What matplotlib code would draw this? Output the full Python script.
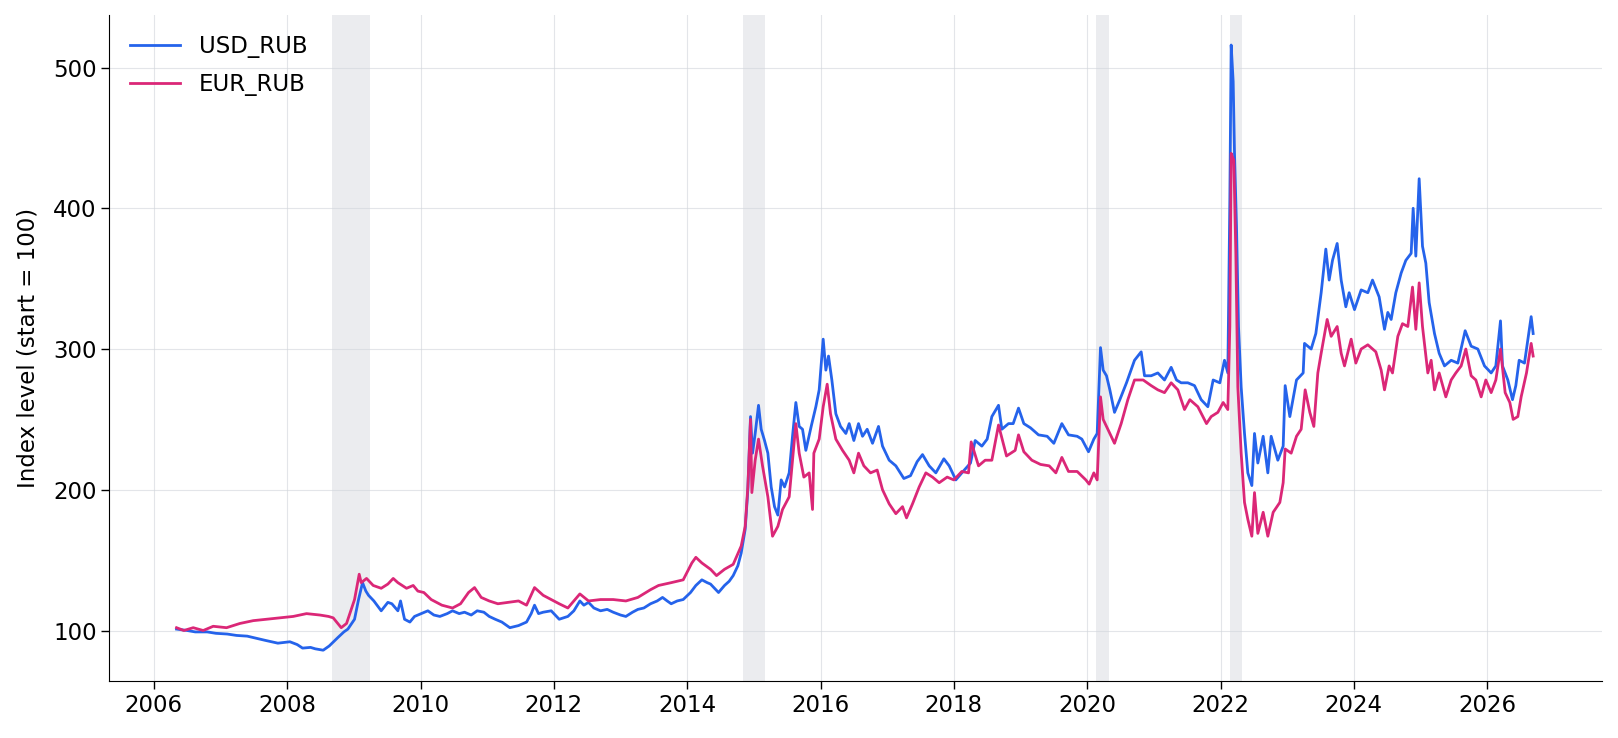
import matplotlib as mpl
mpl.use('Agg')
import matplotlib.pyplot as plt

# decimal-year dates and index levels
usd_dates = [2006.34, 2006.50, 2006.62, 2006.80, 2006.93, 2007.10, 2007.24, 2007.40, 2007.49, 2007.67,
             2007.86, 2008.04, 2008.15, 2008.23, 2008.35, 2008.42, 2008.54, 2008.63, 2008.76, 2008.85,
             2008.91, 2009.01, 2009.07, 2009.13, 2009.18, 2009.22, 2009.30, 2009.41, 2009.51, 2009.57,
             2009.66, 2009.70, 2009.76, 2009.84, 2009.91, 2010.01, 2010.11, 2010.20, 2010.29, 2010.40,
             2010.48, 2010.58, 2010.66, 2010.76, 2010.85, 2010.95, 2011.03, 2011.12, 2011.22, 2011.34,
             2011.47, 2011.59, 2011.66, 2011.71, 2011.77, 2011.84, 2011.96, 2012.08, 2012.21, 2012.30,
             2012.39, 2012.45, 2012.52, 2012.60, 2012.70, 2012.80, 2012.89, 2013.00, 2013.08, 2013.18,
             2013.26, 2013.35, 2013.45, 2013.55, 2013.63, 2013.70, 2013.76, 2013.85, 2013.94, 2014.05,
             2014.13, 2014.22, 2014.30, 2014.35, 2014.47, 2014.56, 2014.63, 2014.69, 2014.76, 2014.81,
             2014.87, 2014.91, 2014.95, 2014.98, 2015.02, 2015.07, 2015.11, 2015.16, 2015.21, 2015.26,
             2015.31, 2015.36, 2015.41, 2015.46, 2015.53, 2015.58, 2015.63, 2015.68, 2015.73, 2015.78,
             2015.86, 2015.93, 2015.98, 2016.04, 2016.08, 2016.12, 2016.17, 2016.23, 2016.30, 2016.38,
             2016.43, 2016.50, 2016.57, 2016.63, 2016.70, 2016.78, 2016.87, 2016.93, 2017.03, 2017.13,
             2017.25, 2017.35, 2017.45, 2017.53, 2017.63, 2017.73, 2017.85, 2017.93, 2018.03, 2018.12,
             2018.25, 2018.32, 2018.42, 2018.50, 2018.57, 2018.67, 2018.72, 2018.82, 2018.89, 2018.97,
             2019.05, 2019.15, 2019.27, 2019.40, 2019.50, 2019.62, 2019.72, 2019.85, 2019.92, 2020.02,
             2020.10, 2020.15, 2020.20, 2020.24, 2020.29, 2020.34, 2020.41, 2020.49, 2020.59, 2020.71,
             2020.81, 2020.86, 2020.96, 2021.06, 2021.16, 2021.26, 2021.34, 2021.41, 2021.51, 2021.61,
             2021.71, 2021.81, 2021.89, 2021.99, 2022.06, 2022.11, 2022.14, 2022.16, 2022.19, 2022.21,
             2022.24, 2022.27, 2022.31, 2022.36, 2022.41, 2022.47, 2022.51, 2022.56, 2022.64, 2022.71,
             2022.76, 2022.86, 2022.94, 2022.97, 2023.04, 2023.14, 2023.24, 2023.26, 2023.36, 2023.43,
             2023.51, 2023.58, 2023.63, 2023.68, 2023.75, 2023.81, 2023.88, 2023.93, 2024.01, 2024.11,
             2024.21, 2024.28, 2024.38, 2024.46, 2024.51, 2024.56, 2024.63, 2024.71, 2024.78, 2024.86,
             2024.89, 2024.93, 2024.98, 2025.03, 2025.08, 2025.13, 2025.21, 2025.28, 2025.36, 2025.46,
             2025.56, 2025.67, 2025.76, 2025.86, 2025.96, 2026.06, 2026.13, 2026.20, 2026.23, 2026.31,
             2026.38, 2026.43, 2026.48, 2026.56, 2026.66, 2026.69]
usd_vals = [101, 100, 99, 99, 98, 97.5, 96.5, 96, 95, 93,
            91, 92, 90, 87.5, 88, 87, 86, 89, 95, 99,
            101, 108, 122, 134, 128, 125, 121, 114, 120, 119,
            114, 121, 108, 106, 110, 112, 114, 111, 110, 112,
            114, 112, 113, 111, 114, 113, 110, 108, 106, 102,
            103.5, 106, 112, 118, 112, 113, 114, 108, 110, 114,
            121, 118, 120, 116, 114, 115, 113, 111, 110, 113,
            115, 116, 119, 121, 123.5, 121, 119, 121, 122, 127,
            132, 136, 134, 133, 127, 132, 135, 139, 146, 155,
            172, 200, 252, 226, 240, 260, 243, 235, 226, 202,
            188, 182, 207, 202, 212, 238, 262, 245, 243, 228,
            245, 259, 271, 307, 285, 295, 278, 254, 245, 240,
            247, 235, 247, 238, 243, 233, 245, 231, 221, 217,
            208, 210, 220, 225, 217, 212, 222, 217, 207, 212,
            219, 235, 231, 236, 252, 260, 243, 247, 247, 258,
            247, 244, 239, 238, 233, 247, 239, 238, 236, 227,
            236, 240, 301, 285, 281, 271, 255, 264, 276, 292,
            298, 281, 281, 283, 278, 287, 278, 276, 276, 274,
            264, 259, 278, 276, 292, 283, 406, 516, 490, 439,
            387, 316, 273, 240, 212, 203, 240, 219, 238, 212,
            238, 221, 231, 274, 252, 278, 283, 304, 300, 311,
            340, 371, 349, 363, 375, 349, 330, 340, 328, 342,
            340, 349, 337, 314, 326, 321, 340, 354, 363, 368,
            400, 366, 421, 373, 361, 333, 311, 297, 288, 292,
            290, 313, 302, 300, 288, 283, 288, 320, 288, 278,
            264, 274, 292, 290, 323, 311]

eur_dates = [2006.34, 2006.45, 2006.59, 2006.74, 2006.89, 2007.09, 2007.29, 2007.49, 2007.69, 2007.89,
             2008.09, 2008.29, 2008.49, 2008.62, 2008.69, 2008.81, 2008.89, 2008.96, 2009.01, 2009.08,
             2009.11, 2009.19, 2009.29, 2009.41, 2009.51, 2009.59, 2009.66, 2009.79, 2009.89, 2009.96,
             2010.05, 2010.16, 2010.32, 2010.48, 2010.60, 2010.72, 2010.81, 2010.91, 2011.03, 2011.16,
             2011.31, 2011.47, 2011.59, 2011.71, 2011.84, 2011.96, 2012.08, 2012.21, 2012.39, 2012.52,
             2012.70, 2012.89, 2013.08, 2013.26, 2013.45, 2013.57, 2013.76, 2013.94, 2014.07, 2014.13,
             2014.22, 2014.35, 2014.44, 2014.56, 2014.69, 2014.81, 2014.87, 2014.91, 2014.95, 2014.97,
             2015.02, 2015.07, 2015.13, 2015.21, 2015.28, 2015.36, 2015.43, 2015.53, 2015.63, 2015.68,
             2015.75, 2015.83, 2015.88, 2015.90, 2015.98, 2016.04, 2016.10, 2016.15, 2016.23, 2016.33,
             2016.43, 2016.50, 2016.57, 2016.65, 2016.75, 2016.85, 2016.93, 2017.03, 2017.13, 2017.23,
             2017.29, 2017.38, 2017.48, 2017.58, 2017.68, 2017.78, 2017.90, 2018.00, 2018.12, 2018.22,
             2018.26, 2018.37, 2018.47, 2018.57, 2018.67, 2018.79, 2018.92, 2018.97, 2019.05, 2019.17,
             2019.30, 2019.43, 2019.53, 2019.62, 2019.72, 2019.85, 2019.98, 2020.03, 2020.10, 2020.15,
             2020.20, 2020.24, 2020.31, 2020.41, 2020.51, 2020.61, 2020.71, 2020.84, 2020.96, 2021.06,
             2021.16, 2021.26, 2021.36, 2021.46, 2021.54, 2021.66, 2021.79, 2021.86, 2021.96, 2022.04,
             2022.11, 2022.14, 2022.16, 2022.20, 2022.23, 2022.26, 2022.31, 2022.36, 2022.41, 2022.47,
             2022.51, 2022.56, 2022.64, 2022.71, 2022.79, 2022.89, 2022.94, 2022.97, 2023.06, 2023.14,
             2023.21, 2023.27, 2023.34, 2023.40, 2023.46, 2023.51, 2023.60, 2023.66, 2023.75, 2023.81,
             2023.86, 2023.96, 2024.03, 2024.11, 2024.21, 2024.33, 2024.41, 2024.46, 2024.53, 2024.58,
             2024.66, 2024.73, 2024.81, 2024.88, 2024.93, 2024.98, 2025.03, 2025.11, 2025.16, 2025.21,
             2025.28, 2025.38, 2025.46, 2025.53, 2025.61, 2025.68, 2025.76, 2025.83, 2025.91, 2025.98,
             2026.06, 2026.13, 2026.20, 2026.27, 2026.34, 2026.39, 2026.46, 2026.51, 2026.59, 2026.66,
             2026.69]
eur_vals = [102, 100, 102, 100, 103, 102, 105, 107, 108, 109,
            110, 112, 111, 110, 109, 102, 105, 115, 122, 140,
            134, 137, 132, 130, 133, 137, 134, 130, 132, 128,
            127, 122, 118, 116, 119, 127, 130.5, 123.5, 121, 119,
            120, 121, 118, 130.5, 125, 122, 119, 116, 126, 121,
            122, 122, 121, 123.5, 129, 132, 134, 136, 148, 152,
            148, 143.5, 139, 143.5, 147, 160, 174, 202, 250, 198,
            221, 236, 217, 195, 167, 174, 186, 195, 247, 226,
            209, 212, 186, 226, 236, 259, 275, 254, 236, 228,
            221, 212, 226, 217, 212, 214, 200, 190, 183, 188,
            180, 190, 202, 212, 209, 205, 209, 207, 213, 212,
            234, 217, 221, 221, 246, 224, 228, 239, 227, 221,
            218, 217, 212, 223, 213, 213, 207, 204, 212, 207,
            266, 250, 243, 233, 247, 264, 278, 278, 274, 271,
            269, 276, 271, 257, 264, 259, 247, 252, 255, 262,
            257, 316, 439, 434, 368, 273, 226, 191, 179, 167,
            198, 169, 184, 167, 184, 191, 205, 229, 226, 238,
            243, 271, 255, 245, 283, 297, 321, 309, 316, 297,
            288, 307, 290, 300, 303, 298, 285, 271, 288, 283,
            309, 318, 316, 344, 314, 347, 316, 283, 292, 271,
            283, 266, 278, 283, 288, 300, 281, 278, 266, 278,
            269, 278, 300, 269, 262, 250, 252, 266, 283, 304,
            295]

# shaded stress periods (start, end) in decimal years
stress_periods = [(2008.67, 2009.24), (2014.83, 2015.16), (2020.13, 2020.32), (2022.14, 2022.32)]

year_ticks = list(range(2006, 2027, 2))

fig = plt.figure(figsize=(16.18, 7.38), dpi=100)
ax = fig.add_axes([0.0675, 0.077, 0.9225, 0.903])

for start, end in stress_periods:
    ax.axvspan(start, end, color='#9ca3af', alpha=0.2, lw=0, zorder=0)

ax.plot(usd_dates, usd_vals, color='#2563eb', lw=2.0, label='USD_RUB', zorder=3)
ax.plot(eur_dates, eur_vals, color='#db2777', lw=2.0, label='EUR_RUB', zorder=3)

ax.set_xlim(2005.33, 2027.72)
ax.set_ylim(64, 537.5)
ax.set_xticks(year_ticks)
ax.set_xticklabels([str(y) for y in year_ticks])
ax.set_yticks([100, 200, 300, 400, 500])
ax.tick_params(labelsize=16.5, length=5.5, width=1)
ax.set_ylabel('Index level (start = 100)', fontsize=16.5, labelpad=10)

ax.grid(True, color='#d1d5db', lw=0.8, alpha=0.6)
ax.set_axisbelow(True)
ax.spines['top'].set_visible(False)
ax.spines['right'].set_visible(False)

ax.legend(loc='upper left', frameon=False, fontsize=16.5, handlelength=2.2, labelspacing=0.65)

fig.savefig('out.png', dpi=100)
